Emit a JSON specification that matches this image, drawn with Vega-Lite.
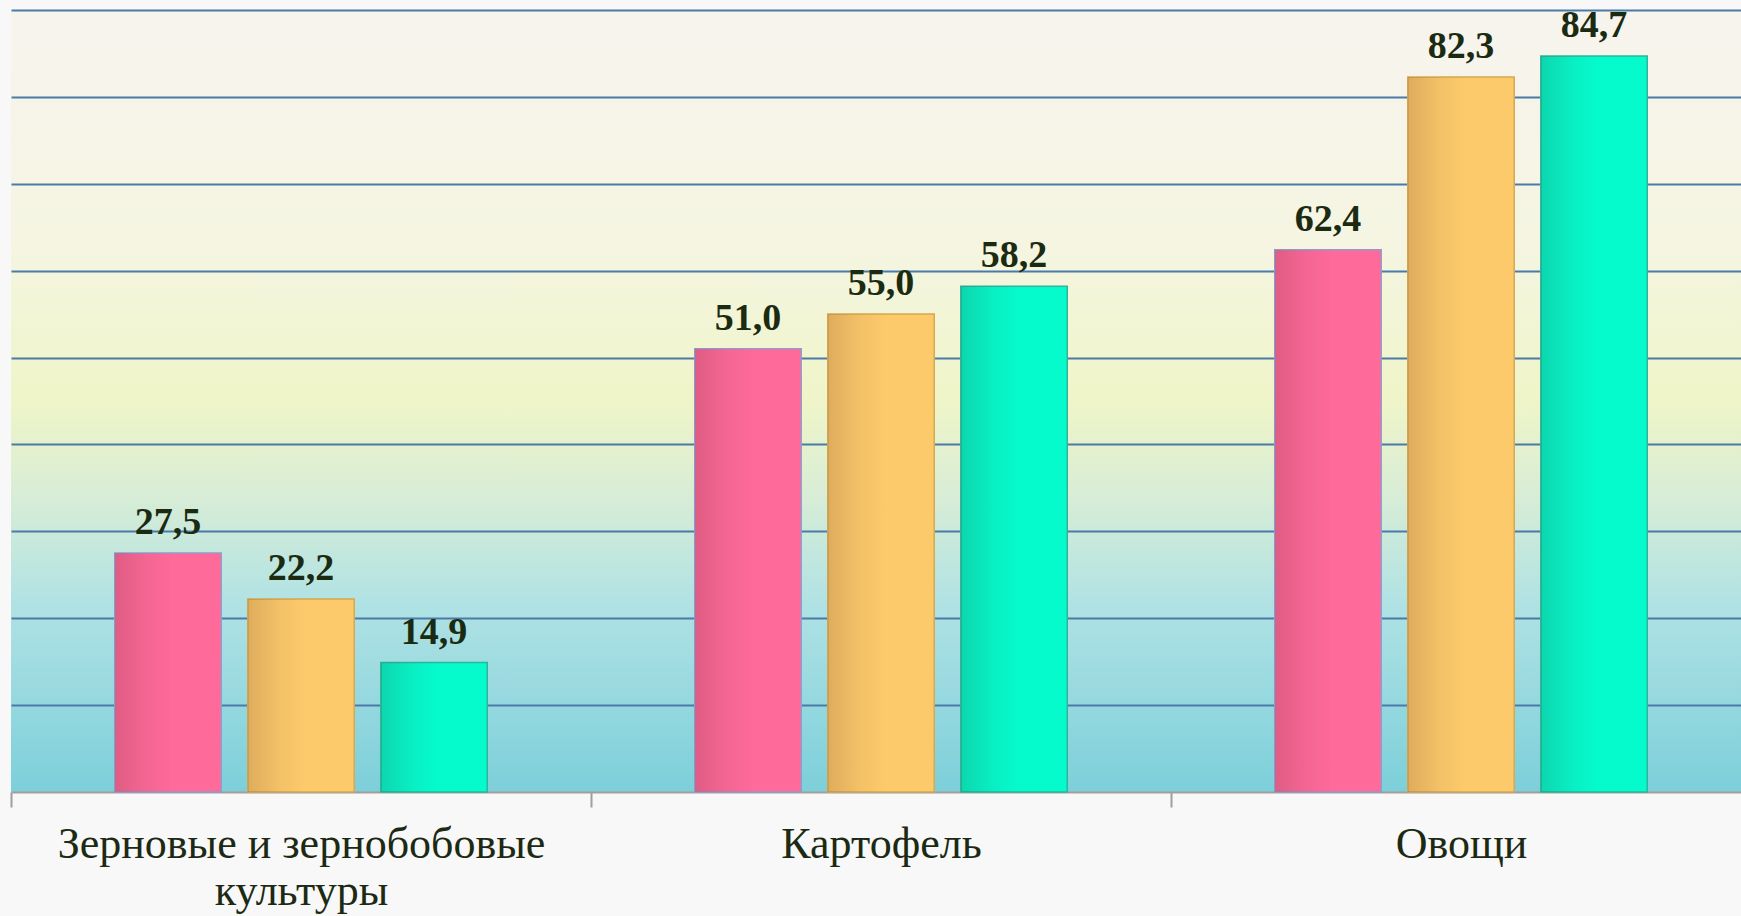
{
  "$schema": "https://vega.github.io/schema/vega-lite/v6.json",
  "width": 1740,
  "height": 782,
  "autosize": {"type": "none"},
  "padding": {"left": 11, "top": 10, "right": -10, "bottom": 124},
  "background": "#f8f8f8",
  "config": {
    "locale": {"number": {"decimal": ",", "thousands": " ", "grouping": [3], "currency": ["", " ₽"]}},
    "view": {
      "stroke": null,
      "fill": {
        "gradient": "linear", "x1": 0, "y1": 0, "x2": 0, "y2": 1,
        "stops": [
          {"offset": 0, "color": "#f7f4ee"},
          {"offset": 0.3, "color": "#f5f5e2"},
          {"offset": 0.5, "color": "#eff5c8"},
          {"offset": 0.62, "color": "#d8edd6"},
          {"offset": 0.76, "color": "#b0e2e4"},
          {"offset": 1, "color": "#7ccfda"}
        ]
      }
    }
  },
  "data": {
    "values": [
      {"category": "Зерновые и зернобобовые культуры", "series": "Ряд 1", "value": 27.5},
      {"category": "Зерновые и зернобобовые культуры", "series": "Ряд 2", "value": 22.2},
      {"category": "Зерновые и зернобобовые культуры", "series": "Ряд 3", "value": 14.9},
      {"category": "Картофель", "series": "Ряд 1", "value": 51.0},
      {"category": "Картофель", "series": "Ряд 2", "value": 55.0},
      {"category": "Картофель", "series": "Ряд 3", "value": 58.2},
      {"category": "Овощи", "series": "Ряд 1", "value": 62.4},
      {"category": "Овощи", "series": "Ряд 2", "value": 82.3},
      {"category": "Овощи", "series": "Ряд 3", "value": 84.7}
    ]
  },
  "encoding": {
    "x": {
      "field": "category", "type": "nominal",
      "sort": ["Зерновые и зернобобовые культуры", "Картофель", "Овощи"],
      "scale": {"paddingInner": 0, "paddingOuter": 0},
      "axis": {
        "title": null, "tickBand": "extent", "grid": false,
        "domainColor": "#a39d9d", "domainWidth": 2,
        "tickColor": "#a39d9d", "tickWidth": 2, "tickSize": 15,
        "labelFont": "Liberation Serif", "labelFontSize": 44, "labelColor": "#1c2a14",
        "labelPadding": 15, "labelAngle": 0, "labelLimit": 0, "labelLineHeight": 47,
        "labelExpr": "datum.value == 'Зерновые и зернобобовые культуры' ? ['Зерновые и зернобобовые', 'культуры'] : datum.value"
      }
    },
    "xOffset": {
      "field": "series", "type": "nominal",
      "sort": ["Ряд 1", "Ряд 2", "Ряд 3"],
      "scale": {"paddingInner": 0.2, "paddingOuter": 0.78}
    },
    "y": {
      "field": "value", "type": "quantitative",
      "scale": {"domain": [0, 90], "nice": false},
      "axis": {
        "title": null, "labels": false, "ticks": false, "domain": false,
        "grid": true, "gridColor": "#4a7aa8", "gridWidth": 2,
        "values": [10, 20, 30, 40, 50, 60, 70, 80, 90]
      }
    }
  },
  "layer": [
    {
      "mark": {"type": "bar", "strokeWidth": 1.5},
      "encoding": {
        "color": {
          "field": "series", "type": "nominal",
          "scale": {"domain": ["Ряд 1", "Ряд 2", "Ряд 3"], "range": ["#fe6a9a", "#fdca6b", "#05fbcc"]},
          "legend": null
        },
        "stroke": {
          "field": "series", "type": "nominal",
          "scale": {"domain": ["Ряд 1", "Ряд 2", "Ряд 3"], "range": ["#9a98c8", "#d6a850", "#2ab89a"]},
          "legend": null
        }
      }
    },
    {
      "mark": {
        "type": "bar",
        "fill": {
          "gradient": "linear", "x1": 0, "y1": 0, "x2": 1, "y2": 0,
          "stops": [
            {"offset": 0, "color": "rgba(60,20,20,0.16)"},
            {"offset": 0.3, "color": "rgba(60,20,20,0.05)"},
            {"offset": 0.55, "color": "rgba(60,20,20,0)"},
            {"offset": 1, "color": "rgba(60,20,20,0)"}
          ]
        },
        "stroke": null
      }
    },
    {
      "mark": {
        "type": "text", "font": "Liberation Serif", "fontWeight": "bold",
        "fontSize": 38, "baseline": "alphabetic", "dy": -19, "color": "#1b2b12"
      },
      "encoding": {
        "text": {"field": "value", "type": "quantitative", "format": ".1f"}
      }
    }
  ]
}
